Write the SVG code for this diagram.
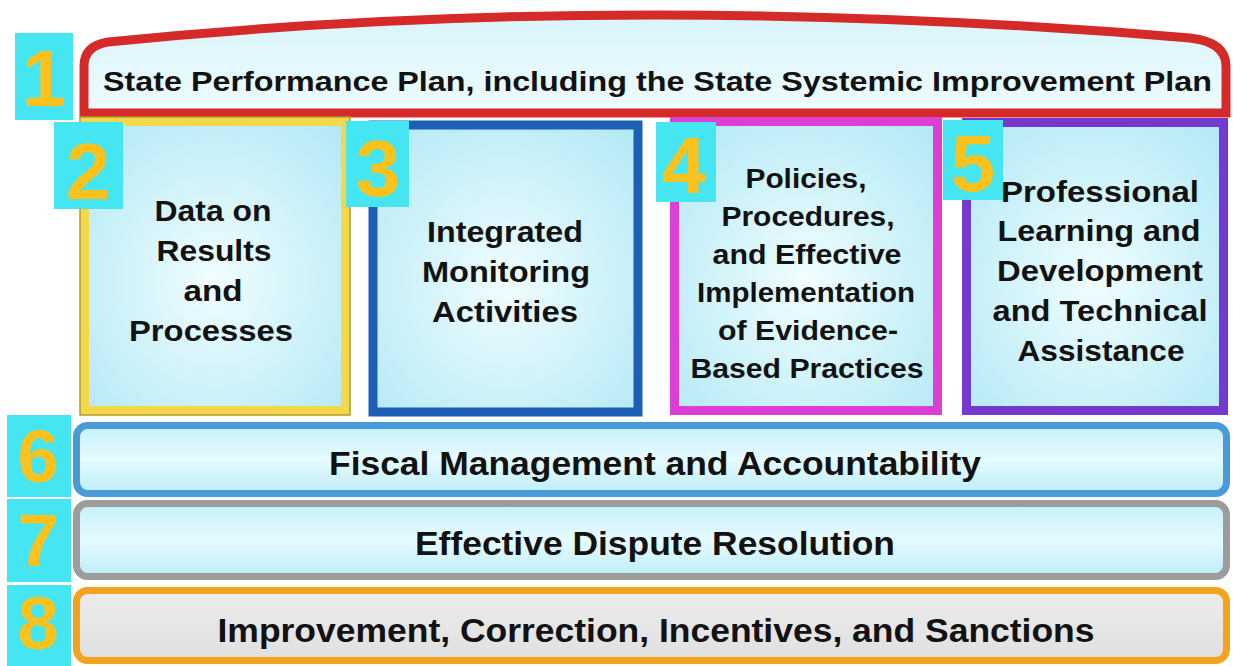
<svg xmlns="http://www.w3.org/2000/svg" width="1233" height="666" viewBox="0 0 1233 666">
<defs>
<radialGradient id="boxFill" cx="0.5" cy="0.55" r="0.7">
<stop offset="0" stop-color="#f0fdff"/>
<stop offset="1" stop-color="#b3e9f5"/>
</radialGradient>
<linearGradient id="topFill" x1="0" y1="0" x2="0" y2="1">
<stop offset="0" stop-color="#d9f5fa"/>
<stop offset="1" stop-color="#eefbfd"/>
</linearGradient>
<linearGradient id="barFill" x1="0" y1="0" x2="0" y2="1">
<stop offset="0" stop-color="#c4eff9"/>
<stop offset="0.5" stop-color="#e6fbff"/>
<stop offset="1" stop-color="#bdedf8"/>
</linearGradient>
<linearGradient id="grayFill" x1="0" y1="0" x2="0" y2="1">
<stop offset="0" stop-color="#ececec"/>
<stop offset="1" stop-color="#e0e0e0"/>
</linearGradient>
</defs>
<style>
.t{font-family:"Liberation Sans",Arial,sans-serif;font-weight:bold;fill:#121212;text-anchor:middle}
.num{font-family:"Liberation Sans",Arial,sans-serif;font-weight:bold;fill:#fbc21e;text-anchor:middle;font-size:80px}
.side{font-size:74px}
.sq{fill:#45e6f2}
.frame{fill:url(#boxFill);stroke-width:9}
.bar{stroke-width:7}
</style>
<rect width="1233" height="666" fill="#ffffff"/>
<g id="connectors"/>

<g id="node1">
<path d="M 84 113 L 84 66 Q 84 46 108 42 Q 620 -10 1190 38 Q 1226 42 1226 66 L 1226 113 Z" fill="url(#topFill)" stroke="#d42a2a" stroke-width="9"/>
<rect class="sq" x="15" y="33" width="58" height="87"/>
<text class="num" x="44" y="106" font-size="84">1</text>
<text class="t" x="103" y="91" font-size="28" style="text-anchor:start" textLength="1109" lengthAdjust="spacingAndGlyphs">State Performance Plan, including the State Systemic Improvement Plan</text>
</g>

<g id="node2">
<rect class="frame" x="84.5" y="121.5" width="261" height="289" stroke="#f2d84a"/>
<rect x="80" y="117" width="270" height="298" fill="none" stroke="#b49a2c" stroke-width="1.5"/>
<rect class="sq" x="54" y="122" width="69" height="87"/>
<text class="num" x="88" y="199">2</text>
<text class="t" font-size="30" x="213" y="221" textLength="117" lengthAdjust="spacingAndGlyphs">Data on</text>
<text class="t" font-size="30" x="214" y="261" textLength="115" lengthAdjust="spacingAndGlyphs">Results</text>
<text class="t" font-size="30" x="213" y="301" textLength="59" lengthAdjust="spacingAndGlyphs">and</text>
<text class="t" font-size="30" x="211" y="341" textLength="164" lengthAdjust="spacingAndGlyphs">Processes</text>
</g>

<g id="node3">
<rect class="frame" x="373" y="125" width="265" height="287" stroke="#1d5fb6" stroke-width="10"/>
<rect class="sq" x="346" y="121" width="63" height="86"/>
<text class="num" x="378" y="196">3</text>
<text class="t" font-size="30" x="505" y="242" textLength="156" lengthAdjust="spacingAndGlyphs">Integrated</text>
<text class="t" font-size="30" x="506" y="282" textLength="168" lengthAdjust="spacingAndGlyphs">Monitoring</text>
<text class="t" font-size="30" x="505" y="322" textLength="146" lengthAdjust="spacingAndGlyphs">Activities</text>
</g>

<g id="node4">
<rect class="frame" x="674.5" y="121.5" width="263" height="289" stroke="#dd3fd6"/>
<rect class="sq" x="656" y="122" width="60" height="80"/>
<text class="num" x="684" y="193" font-size="76">4</text>
<text class="t" font-size="27" x="806" y="188" textLength="121" lengthAdjust="spacingAndGlyphs">Policies,</text>
<text class="t" font-size="27" x="808" y="226" textLength="173" lengthAdjust="spacingAndGlyphs">Procedures,</text>
<text class="t" font-size="27" x="807" y="264" textLength="189" lengthAdjust="spacingAndGlyphs">and Effective</text>
<text class="t" font-size="27" x="806" y="302" textLength="218" lengthAdjust="spacingAndGlyphs">Implementation</text>
<text class="t" font-size="27" x="808" y="340" textLength="180" lengthAdjust="spacingAndGlyphs">of Evidence-</text>
<text class="t" font-size="27" x="807" y="378" textLength="233" lengthAdjust="spacingAndGlyphs">Based Practices</text>
</g>

<g id="node5">
<rect class="frame" x="966.5" y="122.5" width="257" height="288" stroke="#7439cf"/>
<rect class="sq" x="943" y="120" width="60" height="80"/>
<text class="num" x="973" y="191" font-size="76">5</text>
<text class="t" font-size="29" x="1100" y="202" textLength="198" lengthAdjust="spacingAndGlyphs">Professional</text>
<text class="t" font-size="29" x="1099" y="241" textLength="203" lengthAdjust="spacingAndGlyphs">Learning and</text>
<text class="t" font-size="29" x="1100" y="281" textLength="206" lengthAdjust="spacingAndGlyphs">Development</text>
<text class="t" font-size="29" x="1100" y="321" textLength="215" lengthAdjust="spacingAndGlyphs">and Technical</text>
<text class="t" font-size="29" x="1101" y="361" textLength="167" lengthAdjust="spacingAndGlyphs">Assistance</text>
</g>

<g id="node6">
<rect class="sq" x="7" y="415" width="64" height="82"/>
<text class="num side" x="38" y="482">6</text>
<rect class="bar" x="76.5" y="425.5" width="1150" height="68" rx="11" fill="url(#barFill)" stroke="#4a9ad8"/>
<text class="t" font-size="33" x="655" y="475" textLength="652" lengthAdjust="spacingAndGlyphs">Fiscal Management and Accountability</text>
</g>

<g id="node7">
<rect class="sq" x="7" y="499" width="64" height="83"/>
<text class="num side" x="38" y="566">7</text>
<rect class="bar" x="76.5" y="503.5" width="1150" height="73" rx="11" fill="url(#barFill)" stroke="#9c9c9c"/>
<text class="t" font-size="33" x="655" y="555" textLength="480" lengthAdjust="spacingAndGlyphs">Effective Dispute Resolution</text>
</g>

<g id="node8">
<rect class="sq" x="7" y="585" width="64" height="81"/>
<text class="num side" x="38" y="649">8</text>
<rect class="bar" x="76.5" y="590.5" width="1150" height="70" rx="11" fill="url(#grayFill)" stroke="#f4a31e"/>
<text class="t" font-size="33" x="656" y="642" textLength="877" lengthAdjust="spacingAndGlyphs">Improvement, Correction, Incentives, and Sanctions</text>
</g>
</svg>
